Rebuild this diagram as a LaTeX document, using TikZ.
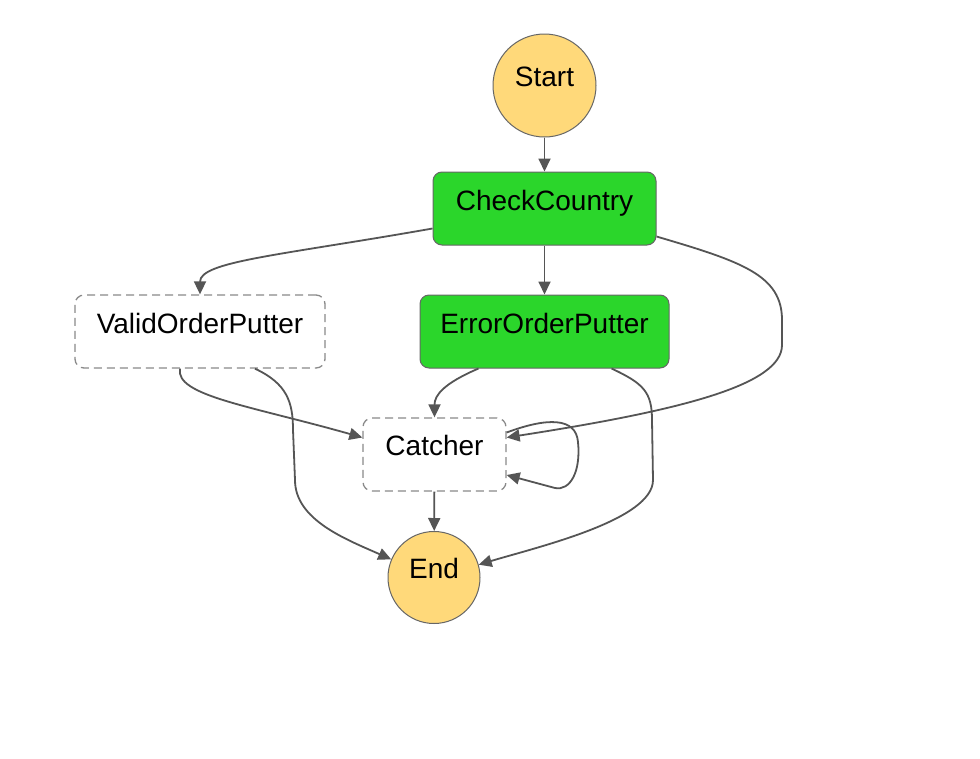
\documentclass[tikz,border=0pt]{standalone}
\usepackage{fontspec}
\setmainfont{Liberation Sans}
\usetikzlibrary{arrows.meta,calc}
\definecolor{termfill}{HTML}{FFD97A}
\definecolor{taskgreen}{HTML}{2BD62B}
\definecolor{edgegray}{HTML}{555555}
\definecolor{bordergray}{HTML}{666666}
\definecolor{dashgray}{HTML}{8A8A8A}
\begin{document}
\begin{tikzpicture}[x=1pt,y=-1pt,
  lbl/.style={font=\fontsize{28}{33}\selectfont, text=black, inner sep=0pt, text depth=0pt},
  term/.style={circle, draw=bordergray, line width=1pt, fill=termfill, inner sep=0pt},
  task/.style={rectangle, rounded corners=9pt, draw=bordergray, line width=1pt, fill=taskgreen, minimum height=73pt, inner sep=0pt},
  pend/.style={rectangle, rounded corners=9pt, draw=dashgray, line width=1.3pt, dash pattern=on 8pt off 5pt, fill=white, minimum height=73pt, inner sep=0pt},
  flow/.style={draw=edgegray, line width=1.8pt, -{Triangle[length=13pt,width=12pt]}},
  plain/.style={draw=edgegray, line width=1.8pt}
]
\useasboundingbox (0,0) rectangle (980,758);
\fill[white] (0,0) rectangle (980,758);

% nodes
\node[term, minimum size=103pt, label={[lbl,yshift=8.5pt]center:Start}] (start) at (544.5,85.5) {};
\node[task, minimum width=223pt, label={[lbl,yshift=8.5pt]center:CheckCountry}] (cc) at (544.5,208.5) {};
\node[pend, minimum width=250pt, label={[lbl,yshift=8.5pt]center:ValidOrderPutter}] (valid) at (200,331.5) {};
\node[task, minimum width=249pt, label={[lbl,yshift=8.5pt]center:ErrorOrderPutter}] (error) at (544.5,331.5) {};
\node[pend, minimum width=143pt, label={[lbl,yshift=9.5pt]center:Catcher}] (catcher) at (434.5,454.5) {};
\node[term, minimum size=92pt, label={[lbl,yshift=9.5pt]center:End}] (end) at (434,577.5) {};

% waypoints
\coordinate (v1) at (293,430);
\coordinate (v2) at (295,480);
\coordinate (e1) at (652,420);
\coordinate (e2) at (653,480);
\coordinate (r1) at (782,320);
\coordinate (r2) at (782,345);
\coordinate (l1) at (578,442);
\coordinate (l2) at (555,488);

% connectors
\draw[flow] (start) -- (cc);
\draw[flow] (cc) -- (error);
\draw[flow] (catcher) -- (end);
\draw[flow] ($(cc.west)+(0,20)$) .. controls +(-153,27) and +(0,-33) .. (valid.north);
\draw[flow] ($(cc.east)+(0,28)$) .. controls +(85,25) and +(0,-45) .. (r1) -- (r2)
   .. controls +(0,40) and +(174,-27) .. ($(catcher.east)+(0,-17)$);
\draw[flow] ($(valid.south)+(-20,0)$) .. controls +(-5,27) and +(-113,-32) .. ($(catcher.west)+(0,-17)$);
\draw[flow] ($(valid.south)+(55,0)$) .. controls +(32,15) and +(0,-28) .. (v1) -- (v2)
   .. controls +(0,40) and +(-45,-20) .. (end.157);
\draw[flow] ($(error.south)+(-66,0)$) .. controls +(-35,15) and +(0,-22) .. (catcher.north);
\draw[flow] ($(error.south)+(67,0)$) .. controls +(32,15) and +(0,-28) .. (e1) -- (e2)
   .. controls +(0,40) and +(60,-18) .. (end.16);
\draw[flow] ($(catcher.east)+(0,-22)$) .. controls +(40,-15) and +(-2,-25) .. (l1)
   .. controls +(3,30) and +(15,3) .. (l2) -- ($(catcher.east)+(0,20.5)$);
\end{tikzpicture}
\end{document}
